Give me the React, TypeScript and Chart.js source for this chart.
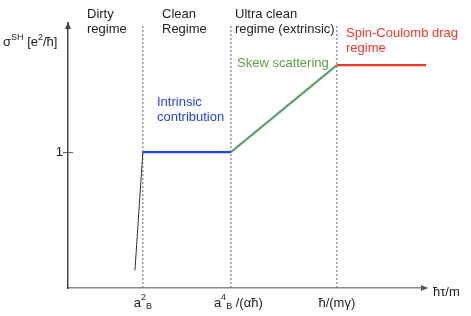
import React, { useEffect, useRef } from "react";
import { Chart, registerables } from "chart.js";

Chart.register(...registerables);

// Regime boundaries (schematic x positions, arbitrary units)
const boundaryNames = ["a2B", "a4B/(αħ)", "ħ/(mγ)"];
const boundaryX = [2.09, 4.55, 7.51];

// Curve segments: [x, y] pairs
const dirtyX = [1.87, 2.09];
const dirtyY = [0.13, 1.0];
const intrinsicX = [2.09, 4.55];
const intrinsicY = [1.0, 1.0];
const skewX = [4.55, 7.51];
const skewY = [1.0, 1.64];
const dragX = [7.51, 10.0];
const dragY = [1.64, 1.64];

const yTickValues = [1];
const yTickLabels = ["1"];

const X_MAX = 10;
const Y_MAX = 1.95;
const DASH_TOP = 1.93;

const FONT = "'Liberation Sans', Arial, Helvetica, sans-serif";

const pts = (xs: number[], ys: number[]) => xs.map((x, i) => ({ x, y: ys[i] }));

type Seg = { t: string; dy?: number; size?: number };

function drawRich(ctx: CanvasRenderingContext2D, segs: Seg[], x: number, y: number, color: string, align: "left" | "center" = "left") {
  ctx.save();
  ctx.fillStyle = color;
  ctx.textBaseline = "middle";
  ctx.textAlign = "left";
  let total = 0;
  for (const s of segs) {
    ctx.font = `${s.size ?? 13}px ${FONT}`;
    total += ctx.measureText(s.t).width;
  }
  let cx = align === "center" ? x - total / 2 : x;
  for (const s of segs) {
    ctx.font = `${s.size ?? 13}px ${FONT}`;
    ctx.fillText(s.t, cx, y + (s.dy ?? 0));
    cx += ctx.measureText(s.t).width;
  }
  ctx.restore();
}

function drawText(ctx: CanvasRenderingContext2D, lines: string[], x: number, y: number, color: string, lh = 15) {
  ctx.save();
  ctx.fillStyle = color;
  ctx.font = `13px ${FONT}`;
  ctx.textBaseline = "middle";
  ctx.textAlign = "left";
  lines.forEach((l, i) => ctx.fillText(l, x, y + i * lh));
  ctx.restore();
}

const overlay = {
  id: "overlay",
  afterDraw(chart: any) {
    const ctx: CanvasRenderingContext2D = chart.ctx;
    const xs = chart.scales.x;
    const ys = chart.scales.y;
    const left = xs.getPixelForValue(0);
    const bottom = ys.getPixelForValue(0);
    const top = ys.getPixelForValue(Y_MAX);
    const right = xs.getPixelForValue(X_MAX);

    // arrowheads
    ctx.save();
    ctx.fillStyle = "#444";
    ctx.beginPath();
    ctx.moveTo(left, top - 1);
    ctx.lineTo(left - 3, top + 6);
    ctx.lineTo(left + 3, top + 6);
    ctx.closePath();
    ctx.fill();
    ctx.fillStyle = "#555";
    ctx.beginPath();
    ctx.moveTo(right + 2, bottom);
    ctx.lineTo(right - 5, bottom - 3);
    ctx.lineTo(right - 5, bottom + 3);
    ctx.closePath();
    ctx.fill();
    ctx.restore();

    // y ticks
    yTickValues.forEach((v, i) => {
      const py = ys.getPixelForValue(v);
      ctx.save();
      ctx.strokeStyle = "#555";
      ctx.lineWidth = 1;
      ctx.beginPath();
      ctx.moveTo(left - 5, py + 0.5);
      ctx.lineTo(left + 5, py + 0.5);
      ctx.stroke();
      ctx.restore();
      ctx.save();
      ctx.fillStyle = "#222";
      ctx.font = `13px ${FONT}`;
      ctx.textAlign = "right";
      ctx.textBaseline = "middle";
      ctx.fillText(yTickLabels[i], left - 5, py);
      ctx.restore();
    });

    // x tick labels (with super/subscripts)
    const ty = bottom + 15;
    const x0 = xs.getPixelForValue(boundaryX[0]);
    drawRich(ctx, [{ t: "a" }, { t: "2", dy: -5, size: 9 }, { t: "B", dy: 4, size: 9 }], x0, ty, "#222", "center");
    const x1 = xs.getPixelForValue(boundaryX[1]);
    drawRich(ctx, [{ t: "a" }, { t: "4", dy: -5, size: 9 }, { t: "B", dy: 4, size: 9 }, { t: " /(αħ)" }], x1 - 17, ty, "#222", "left");
    const x2 = xs.getPixelForValue(boundaryX[2]);
    drawRich(ctx, [{ t: "ħ/(mγ)" }], x2, ty, "#222", "center");
    drawRich(ctx, [{ t: "ħτ/m" }], right + 7, bottom + 4, "#222", "left");

    // y axis title
    drawRich(ctx, [{ t: "σ" }, { t: "SH", dy: -4, size: 9 }, { t: " [e" }, { t: "2", dy: -4, size: 9 }, { t: "/ħ]" }], 3, 42, "#222", "left");

    // annotations
    drawText(ctx, ["Dirty", "regime"], 87, 14, "#222");
    drawText(ctx, ["Clean", "Regime"], 162, 14, "#222");
    drawText(ctx, ["Ultra clean", "regime (extrinsic)"], 235, 14, "#222");
    drawText(ctx, ["Spin-Coulomb drag", "regime"], 346, 33, "#f0392b");
    drawText(ctx, ["Skew scattering"], 237, 63, "#5a9e45");
    drawText(ctx, ["Intrinsic", "contribution"], 157, 102, "#1f3ff0");
  },
};

export default function App() {
  const ref = useRef<HTMLCanvasElement | null>(null);
  useEffect(() => {
    if (!ref.current) return;
    const dashed = boundaryX.map((bx, i) => ({
      label: boundaryNames[i],
      data: pts([bx, bx], [0, DASH_TOP]),
      borderColor: "#666",
      borderWidth: 1,
      borderDash: [2, 2],
      pointRadius: 0,
      fill: false,
    }));
    const chart = new Chart(ref.current, {
      type: "line",
      data: {
        datasets: [
          { label: "Intrinsic", data: pts(intrinsicX, intrinsicY), borderColor: "#1f45f0", borderWidth: 2.2, pointRadius: 0 },
          { label: "Skew", data: pts(skewX, skewY), borderColor: "#5aa36a", borderWidth: 2.2, pointRadius: 0 },
          { label: "Drag", data: pts(dragX, dragY), borderColor: "#f0392b", borderWidth: 2.2, pointRadius: 0 },
          { label: "Dirty", data: pts(dirtyX, dirtyY), borderColor: "#333", borderWidth: 1, pointRadius: 0 },
          ...dashed,
        ],
      },
      options: {
        responsive: false,
        animation: false,
        events: [],
        layout: { padding: { left: 68, right: 45, top: 23, bottom: 28 } },
        plugins: { legend: { display: false }, tooltip: { enabled: false } },
        scales: {
          x: {
            type: "linear",
            min: 0,
            max: X_MAX,
            ticks: { display: false },
            grid: { display: false },
            border: { display: true, color: "#888", width: 1.5 },
            afterFit: (s: any) => { s.height = 0; },
          },
          y: {
            type: "linear",
            min: 0,
            max: Y_MAX,
            ticks: { display: false },
            grid: { display: false },
            border: { display: true, color: "#444", width: 1.5 },
            afterFit: (s: any) => { s.width = 0; },
          },
        },
      },
      plugins: [overlay],
    });
    return () => chart.destroy();
  }, []);
  return (
    <div style={{ position: "fixed", left: 0, top: 0, width: 471, height: 316, background: "#fff" }}>
      <canvas ref={ref} width={471} height={316} style={{ display: "block" }} />
    </div>
  );
}
